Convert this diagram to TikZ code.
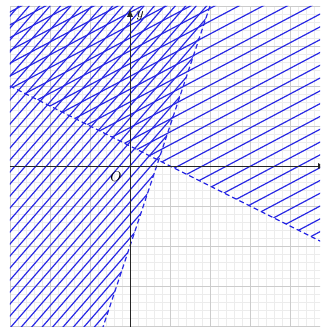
\documentclass[tikz,border=0pt]{standalone}
\usetikzlibrary{arrows.meta}
\definecolor{hatchblue}{RGB}{40,40,228}
\begin{document}
\begin{tikzpicture}[x=1cm,y=1cm,
  hatch/.style={hatchblue, line width=0.85pt},
  boundary/.style={hatchblue, line width=0.85pt, dash pattern=on 3.5pt off 2.2pt},
  minorgrid/.style={gray!15, line width=0.4pt},
  majorgrid/.style={gray!40, line width=0.6pt},
  axis/.style={black!85, line width=0.7pt},
  lbl/.style={inner sep=0pt}]
\useasboundingbox (-3.25,-4.025) rectangle (4.75,4.15);
\clip (-3.25,-4.025) rectangle (4.75,4.15);
% grid
\begin{scope}
  \clip (-3,-4.2) rectangle (4.8,4);
  \draw[minorgrid, step=0.2] (-3,-4.2) grid (4.8,4);
  \draw[majorgrid, step=1] (-3,-4.2) grid (4.8,4);
\end{scope}
% hatch region left of 3x - y = 2
\begin{scope}
  \clip (-3,-4.1) -- (-0.7,-4.1) -- (2,4) -- (-3,4) -- cycle;
  \foreach \k in {-26,...,28}
    \draw[hatch] (-4,{-4*1.15+\k*0.3}) -- (6,{6*1.15+\k*0.3});
\end{scope}
% hatch region above x + 2y = 1
\begin{scope}
  \clip (-3,2) -- (4.8,-1.9) -- (4.8,4) -- (-3,4) -- cycle;
  \foreach \k in {-18,...,20}
    \draw[hatch] (-4,{-4*0.53+\k*0.32}) -- (6,{6*0.53+\k*0.32});
\end{scope}
% boundary lines
\coordinate (A1) at (2,4);
\coordinate (A2) at (-0.7,-4.1);
\coordinate (B1) at (-3,2);
\coordinate (B2) at (4.8,-1.9);
\draw[boundary] (A1) -- (A2);
\draw[boundary] (B1) -- (B2);
% axes
\coordinate (xs) at (-3,0);
\coordinate (xe) at (4.9,0);
\coordinate (ys) at (0,-4.1);
\coordinate (ye) at (0,3.93);
\draw[axis, -{Latex[length=2mm,width=1.5mm]}] (xs) -- (xe);
\draw[axis, -{Latex[length=2mm,width=1.5mm]}] (ys) -- (ye);
\node[lbl] (ylab) at (0.25,3.76) {$y$};
\node[lbl] (olab) at (-0.35,-0.27) {$O$};
\end{tikzpicture}
\end{document}
